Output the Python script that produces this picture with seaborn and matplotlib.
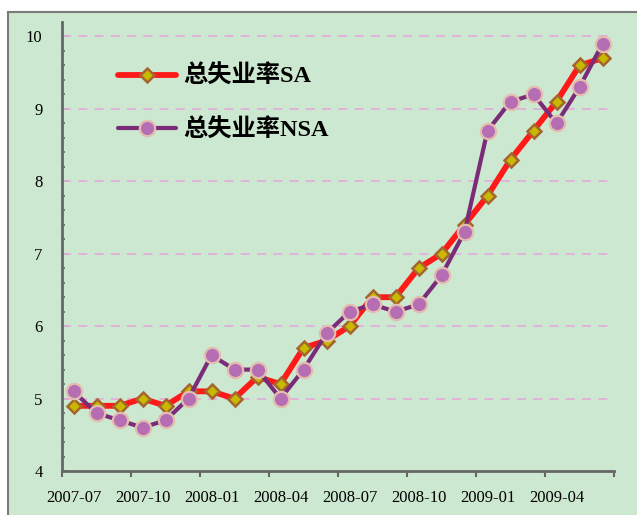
import numpy as np
import pandas as pd
import seaborn as sns
import matplotlib.pyplot as plt
from matplotlib.patches import Rectangle

# months shown on the category axis
months = pd.period_range("2007-07", "2009-06", freq="M").strftime("%Y-%m").tolist()

# seasonally adjusted / not adjusted unemployment rate (%)
sa = [4.9, 4.9, 4.9, 5.0, 4.9, 5.1, 5.1, 5.0, 5.3, 5.2, 5.7, 5.8,
      6.0, 6.4, 6.4, 6.8, 7.0, 7.4, 7.8, 8.3, 8.7, 9.1, 9.6, 9.7]
nsa = [5.1, 4.8, 4.7, 4.6, 4.7, 5.0, 5.6, 5.4, 5.4, 5.0, 5.4, 5.9,
       6.2, 6.3, 6.2, 6.3, 6.7, 7.3, 8.7, 9.1, 9.2, 8.8, 9.3, 9.9]

label_sa = "总失业率SA"
label_nsa = "总失业率NSA"

df = pd.DataFrame({"idx": np.arange(len(months)), "month": months, "SA": sa, "NSA": nsa})

sns.set_style("white")
plt.rcParams["font.family"] = ["Liberation Serif", "Noto Sans CJK SC"]
plt.rcParams["text.color"] = "black"

bg = "#CDE8D0"
fig = plt.figure(figsize=(6.37, 5.15), dpi=100)
fig.patch.set_facecolor("white")
# outer chart frame
fig.patches.append(Rectangle((8 / 637, -0.05), 1.2, 1 - 12 / 515 + 0.05,
                             transform=fig.transFigure, facecolor=bg,
                             edgecolor="#7a7a7a", linewidth=1.5, zorder=-10))

ax = fig.add_axes([62 / 637, 44 / 515, 552 / 637, 449 / 515])
ax.set_zorder(1)
ax.patch.set_alpha(0)

sns.lineplot(data=df, x="idx", y="SA", ax=ax, color="#FF1A1A", linewidth=4.2,
             marker="D", markersize=7.5, markerfacecolor="#C9B800",
             markeredgecolor="#A5652F", markeredgewidth=1.8, label=label_sa, zorder=3)
sns.lineplot(data=df, x="idx", y="NSA", ax=ax, color="#7B2C78", linewidth=3,
             marker="o", markersize=11, markerfacecolor="#B56DB3",
             markeredgecolor="#E3BCAE", markeredgewidth=1.6, label=label_nsa, zorder=4)

ax.set_xlim(-0.5, len(months) - 0.5)
ax.set_ylim(4, 10.2)
ax.set_xlabel("")
ax.set_ylabel("")

# y axis
ax.set_yticks(range(4, 11))
ax.set_yticks(np.arange(4, 10.2, 0.2), minor=True)
ax.tick_params(axis="y", which="both", left=True, direction="in", color="#666666",
               width=1.2, labelsize=12, labelcolor="black", pad=14)
ax.tick_params(axis="y", which="major", length=4)
ax.tick_params(axis="y", which="minor", length=2.5)

# x axis: labels at month centres, marks at boundaries
ax.set_xticks(df["idx"][::3])
ax.set_xticklabels(df["month"][::3])
ax.set_xticks(np.arange(-0.5, len(months), 3), minor=True)
ax.tick_params(axis="x", which="major", length=0, labelsize=12, labelcolor="black", pad=14)
ax.tick_params(axis="x", which="minor", bottom=True, direction="out", length=4,
               width=1.5, color="#666666")

for v in range(5, 11):
    ax.axhline(v, color="#E3AEDA", linestyle=(0, (5, 4)), linewidth=1.3, zorder=1)

for side in ["top", "right"]:
    ax.spines[side].set_visible(False)
for side in ["left", "bottom"]:
    ax.spines[side].set_color("#666666")
    ax.spines[side].set_linewidth(2)

leg = ax.legend(loc="upper left", bbox_to_anchor=((118 - 62) / 552, (471 - 65) / 449),
                frameon=False, borderpad=0, borderaxespad=0, handlelength=2.4,
                handletextpad=0.3, labelspacing=1.25,
                prop={"size": 17.5, "weight": "bold"})
for t in leg.get_texts():
    t.set_color("black")

plt.savefig("out.png", dpi=100)
